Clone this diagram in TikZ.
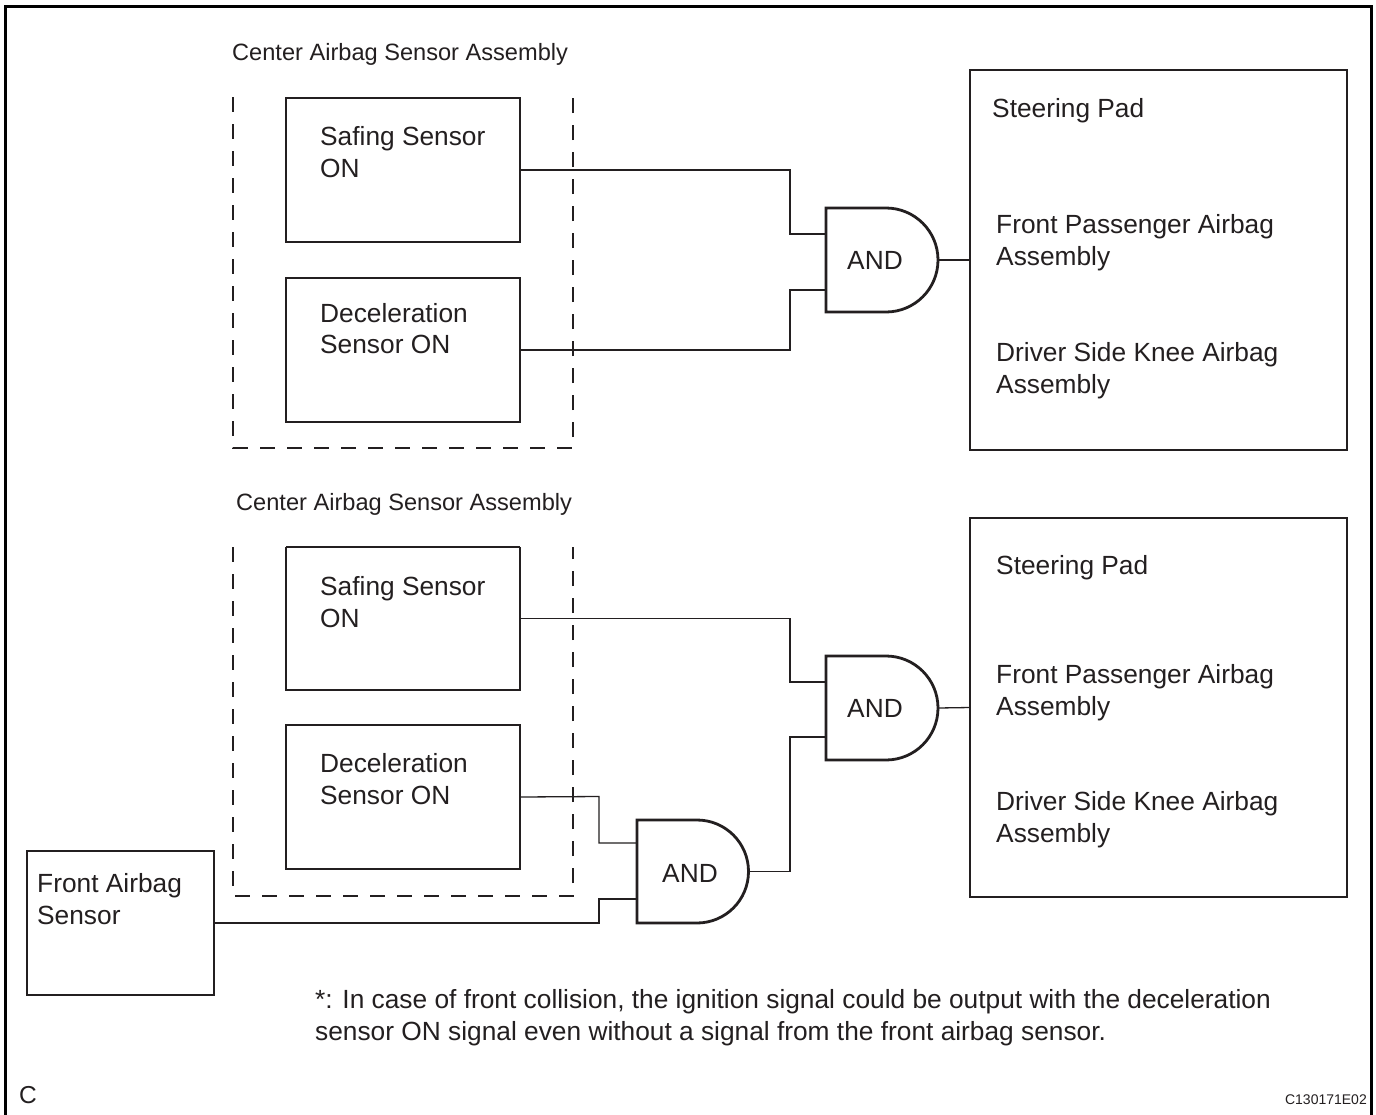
\documentclass[tikz,border=0pt]{standalone}
\usepackage{fontspec}
\setmainfont{Liberation Sans}
\definecolor{ink}{HTML}{231F20}
\begin{document}
\begin{tikzpicture}[x=1pt,y=-1pt,
  box/.style={draw=ink, line width=2.8pt, anchor=north west, inner sep=0pt, outer sep=0pt},
  nobox/.style={anchor=north west, inner sep=0pt, outer sep=0pt},
  boxline/.style={draw=ink, line width=2.8pt},
  wire/.style={draw=ink, line width=1.3pt},
  dashline/.style={draw=ink, line width=1.3pt, dash pattern=on 15pt off 12pt},
  frameline/.style={draw=black, line width=3pt},
  gate/.style={draw=ink, line width=2.8pt, fill=white, line join=miter},
  txt/.style={anchor=base west, inner sep=0pt, text=ink, font=\fontsize{26.3}{32}\selectfont},
  hdr/.style={anchor=base west, inner sep=0pt, text=ink, font=\fontsize{23.6}{28}\selectfont},
  gtxt/.style={inner sep=0pt, text=ink, font=\fontsize{26.3}{32}\selectfont},
]
\useasboundingbox (0,0) rectangle (1376,1114);
\fill[white] (0,0) rectangle (1376,1114);
% outer frame
\draw[frameline] (5,1130) -- (5,6) -- (1371,6) -- (1371,1130);

% ================= TOP SECTION =================
\node[hdr] (h1) at (232,60) {Center Airbag Sensor Assembly};
\draw[dashline] (233,97) -- (233,448) -- (573,448) -- (573,97);
\node[box, minimum width=234pt, minimum height=144pt] (saf1) at (286,98) {};
\node[txt] (saf1a) at (320,145) {Safing Sensor};
\node[txt] (saf1b) at (320,177) {ON};
\node[box, minimum width=234pt, minimum height=144pt] (dec1) at (286,278) {};
\node[txt] (dec1a) at (320,322) {Deceleration};
\node[txt] (dec1b) at (320,353) {Sensor ON};

% AND gate 1
\path[gate] (826,208) -- (886,208) arc[start angle=90, end angle=-90, radius=52pt] -- (826,312) -- cycle;
\node[gtxt] (and1) at (875,260) {AND};
\coordinate (a1i1) at (826,234);
\coordinate (a1i2) at (826,290);
\coordinate (a1o) at (938,260);

\node[box, minimum width=377pt, minimum height=380pt] (sp1) at (970,70) {};
\node[txt] (sp1a) at (992,117) {Steering Pad};
\node[txt] (sp1b) at (996,233) {Front Passenger Airbag};
\node[txt] (sp1c) at (996,265) {Assembly};
\node[txt] (sp1d) at (996,361) {Driver Side Knee Airbag};
\node[txt] (sp1e) at (996,393) {Assembly};

\draw[wire] (saf1.east) -- (790,170) |- (a1i1);
\draw[wire] (dec1.east) -- (790,350) |- (a1i2);
\draw[wire] (a1o) -- (sp1.west);

% ================= BOTTOM SECTION =================
\node[hdr] (h2) at (236,510) {Center Airbag Sensor Assembly};
\draw[dashline] (233,547) -- (233,896) -- (573,896) -- (573,547);
\node[nobox, minimum width=234pt, minimum height=143pt] (saf2) at (286,547) {};
\draw[boxline] (saf2.north west) -- (saf2.south west) -- (saf2.south east) -- (saf2.north east);
\draw[wire] (saf2.north west) -- (saf2.north east);
\node[txt] (saf2a) at (320,595) {Safing Sensor};
\node[txt] (saf2b) at (320,627) {ON};
\node[box, minimum width=234pt, minimum height=144pt] (dec2) at (286,725) {};
\node[txt] (dec2a) at (320,772) {Deceleration};
\node[txt] (dec2b) at (320,804) {Sensor ON};

% AND gate 2
\path[gate] (826,656) -- (886,656) arc[start angle=90, end angle=-90, radius=52pt] -- (826,760) -- cycle;
\node[gtxt] (and2) at (875,708) {AND};
\coordinate (a2i1) at (826,682);
\coordinate (a2i2) at (826,737);
\coordinate (a2o) at (938,708);

% AND gate 3
\path[gate] (637,820) -- (697,820) arc[start angle=90, end angle=-90, radius=51.5pt] -- (637,923) -- cycle;
\node[gtxt] (and3) at (690,873) {AND};
\coordinate (a3i1) at (637,843);
\coordinate (a3i2) at (637,899);
\coordinate (a3o) at (749,871.5);

\node[box, minimum width=377pt, minimum height=379pt] (sp2) at (970,518) {};
\node[txt] (sp2a) at (996,574) {Steering Pad};
\node[txt] (sp2b) at (996,683) {Front Passenger Airbag};
\node[txt] (sp2c) at (996,715) {Assembly};
\node[txt] (sp2d) at (996,810) {Driver Side Knee Airbag};
\node[txt] (sp2e) at (996,842) {Assembly};

\node[box, minimum width=187pt, minimum height=144pt] (fas) at (27,851) {};
\node[txt] (fasa) at (37,892) {Front Airbag};
\node[txt] (fasb) at (37,924) {Sensor};

\draw[wire] (saf2.east) -- (790,618.5) |- (a2i1);
\draw[wire] (a3o) -- (790,871.5) |- (a2i2);
\draw[wire] (a2o) -- (sp2.west);
\draw[wire] (dec2.east) -- (599,796.5) |- (a3i1);
\draw[wire] (fas.east) -- (599,923) |- (a3i2);

% note
\node[txt] (n1) at (315,1008) {*: In case of front collision, the ignition signal could be output with the deceleration};
\node[txt] (n2) at (315,1040) {sensor ON signal even without a signal from the front airbag sensor.};

\node[anchor=base west, inner sep=0pt, text=ink, font=\fontsize{24.5}{29}\selectfont] (c) at (19,1103) {C};
\node[anchor=base east, inner sep=0pt, text=ink, font=\fontsize{14}{17}\selectfont] (code) at (1367,1104) {C130171E02};
\end{tikzpicture}
\end{document}
